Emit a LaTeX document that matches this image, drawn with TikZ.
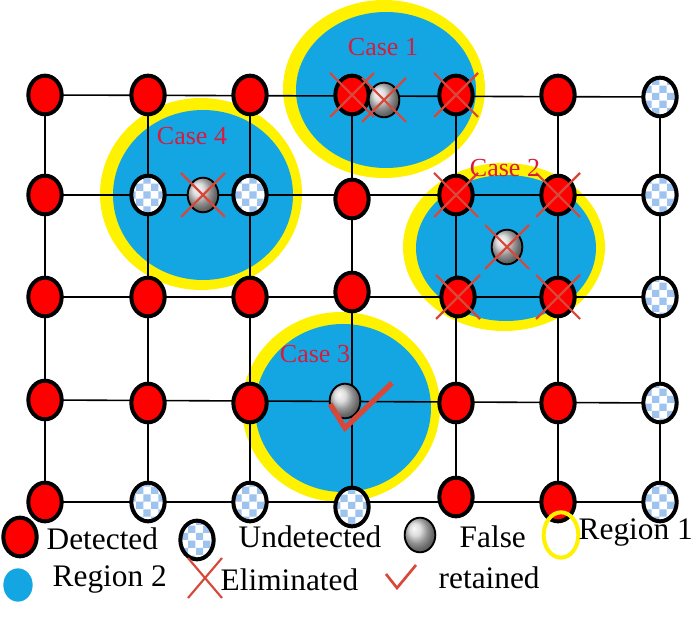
\documentclass[tikz,border=0pt]{standalone}
\usepackage{fontspec}
\setmainfont{Liberation Serif}
\usetikzlibrary{shapes.geometric,patterns,backgrounds}
\pgfdeclarelayer{bg}\pgfdeclarelayer{ln}\pgfsetlayers{bg,ln,main}
\definecolor{rblue}{HTML}{14A6E2}
\definecolor{ryel}{HTML}{FFF200}
\definecolor{xred}{HTML}{D8483A}
\definecolor{ctxt}{HTML}{D81B3C}
\definecolor{chk}{HTML}{9EC3EE}
\begin{document}
\begin{tikzpicture}[x=0.75pt,y=-0.75pt,
 det/.style={ellipse,draw=black,line width=3pt,fill=red,minimum width=25pt,minimum height=29pt,inner sep=0pt},
 und/.style={ellipse,draw=black,line width=3pt,minimum width=25pt,minimum height=29pt,inner sep=0pt,
   preaction={fill=white},pattern=checkerboard,pattern color=chk},
 fal/.style={ellipse,draw=black,line width=1.4pt,minimum width=23pt,minimum height=26pt,inner sep=0pt,ball color=gray!35},
 gl/.style={line width=1.2pt},
 xm/.style={xred,line width=1.6pt},
 case/.style={text=ctxt,font=\fontsize{19.5}{19.5}\selectfont},
 leg/.style={anchor=west,font=\fontsize{23.5}{23.5}\selectfont}]
\useasboundingbox (0,0) rectangle (700,630);
% regions
\begin{pgfonlayer}{bg}
\foreach \cx/\cy/\rx/\ry in {384/89/101/89, 201/194/101/96, 504/247/101/84, 341/407/99/95}{
 \fill[ryel] (\cx,\cy) ellipse[x radius=\rx,y radius=\ry];
 \fill[rblue] (\cx+2,\cy+1) ellipse[x radius=\rx-11,y radius=\ry-11];
}
\end{pgfonlayer}
% nodes
\node[det] (a1) at (45,95) {};
\node[det] (a2) at (148,95) {};
\node[det] (a3) at (250,95) {};
\node[det] (a4) at (352,95) {};
\node[det] (a5) at (456,95) {};
\node[det] (a6) at (558,95) {};
\node[und] (a7) at (660,97) {};
\node[det] (b1) at (45,195) {};
\node[und] (b2) at (148,195) {};
\node[und] (b3) at (250,195) {};
\node[det] (b4) at (352,199) {};
\node[det] (b5) at (456,195) {};
\node[det] (b6) at (558,195) {};
\node[und] (b7) at (660,195) {};
\node[det] (c1) at (45,297) {};
\node[det] (c2) at (148,297) {};
\node[det] (c3) at (250,297) {};
\node[det] (c4) at (352,292) {};
\node[det] (c5) at (458,297) {};
\node[det] (c6) at (558,297) {};
\node[und] (c7) at (660,297) {};
\node[det] (d1) at (45,400) {};
\node[det] (d2) at (148,403) {};
\node[det] (d3) at (250,403) {};
\node[fal] (d4) at (345,401) {};
\node[det] (d5) at (456,403) {};
\node[det] (d6) at (558,403) {};
\node[und] (d7) at (660,403) {};
\node[det] (e1) at (45,502) {};
\node[und] (e2) at (148,502) {};
\node[und] (e3) at (250,502) {};
\node[und] (e4) at (352,507) {};
\node[det] (e5) at (456,497) {};
\node[det] (e6) at (558,502) {};
\node[und] (e7) at (660,502) {};
\node[fal] (f1) at (384,100) {};
\node[fal] (f4) at (203,195) {};
\node[fal] (f2) at (507,247) {};
% grid
\begin{pgfonlayer}{ln}
\draw[gl] (a1.center) -- (a7.center);
\draw[gl] (b1.center) -- (b7.center);
\draw[gl] (c1.center) -- (c7.center);
\draw[gl] (d1.center) -- (d7.center);
\draw[gl] (e1.center) -- (e7.center);
\foreach \i in {1,...,7}{
 \draw[gl] (a\i.center) -- (e\i.center);
}
\end{pgfonlayer}
% crosses
\foreach \n in {a4,f1,a5,f4,b5,b6,f2,c5,c6}{
 \draw[xm] ([shift={(-22,-22)}]\n.center) -- ([shift={(22,22)}]\n.center)
           ([shift={(-22,22)}]\n.center) -- ([shift={(22,-22)}]\n.center);
}
% check
\draw[xred,line width=4pt,line join=miter] ([shift={(-15,3)}]d4.center) -- ([shift={(0,27)}]d4.center) -- ([shift={(47,-18)}]d4.center);
% case labels
\node[case] (t1) at (383,47) {Case 1};
\node[case] (t4) at (192,136) {Case 4};
\node[case] (t2) at (505,168) {Case 2};
\node[case] (t3) at (315,354) {Case 3};
% legend
\node[det] (l1) at (20,537) {};
\node[leg] (l1t) at (42,539) {Detected};
\node[und] (l2) at (197,540) {};
\node[leg] (l2t) at (234,537) {Undetected};
\node[fal] (l3) at (420,535) {};
\node[leg] (l3t) at (455,537) {False};
\node[ellipse,draw=ryel,line width=3pt,minimum width=26pt,minimum height=34pt,inner sep=0pt] (l4) at (561,535) {};
\node[leg] (l4t) at (574,533) {Region 1};
\node[ellipse,fill=rblue,minimum width=22pt,minimum height=25pt,inner sep=0pt] (l5) at (18,585) {};
\node[leg] (l5t) at (48,580) {Region 2};
\coordinate (l6) at (205,578);
\draw[xm] ([shift={(-17,-20)}]l6) -- ([shift={(17,20)}]l6) ([shift={(-17,20)}]l6) -- ([shift={(17,-20)}]l6);
\node[leg] (l6t) at (216,580) {Eliminated};
\coordinate (l7) at (400,580);
\draw[xred,line width=2pt] ([shift={(-14,-6)}]l7) -- ([shift={(-3,8)}]l7) -- ([shift={(16,-15)}]l7);
\node[leg] (l7t) at (434,578) {retained};
\end{tikzpicture}
\end{document}
